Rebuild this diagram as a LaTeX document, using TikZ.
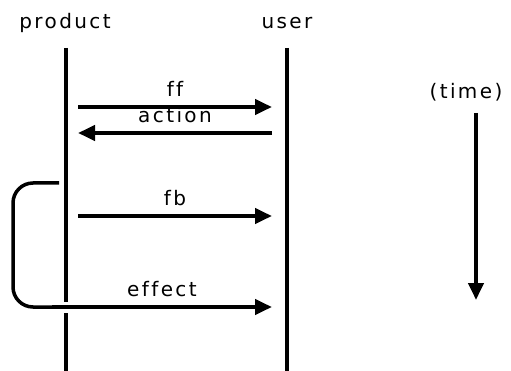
\documentclass[tikz,border=0pt]{standalone}
\usepackage{fontspec}
\setmainfont[LetterSpace=12, Ligatures=NoCommon]{DejaVu Sans}
\usetikzlibrary{positioning,arrows.meta}

\begin{document}
\begin{tikzpicture}[x=1pt, y=-1pt, font=\fontsize{20}{22}\selectfont,
   lane/.style={line width=4pt},
   msg/.style={line width=4pt, -{Triangle[length=17pt, width=15pt]}},
   lbl/.style={midway, above=8pt, inner sep=0pt},
   loopline/.style={line width=3.5pt, rounded corners=20pt}]
  \useasboundingbox (0,0) rectangle (511,371);
  % lifelines
  \node[anchor=base] (product) at (65,29) {product};
  \node[anchor=base] (user) at (287,29) {user};
  \coordinate (p top) at (66,48);
  \coordinate (p gap1) at (66,302);
  \coordinate (p gap2) at (66,313);
  \coordinate (p bot) at (66,371);
  \coordinate (u top) at (287,48);
  \coordinate (u bot) at (287,371);
  \draw[lane] (p top)--(p gap1);
  \draw[lane] (p gap2)--(p bot);
  \draw[lane] (u top)--(u bot);

  % messages
  \coordinate (ff from) at (78,107);
  \coordinate (ff to) at (272,107);
  \coordinate (act from) at (272,133);
  \coordinate (act to) at (78,133);
  \coordinate (fb from) at (78,216);
  \coordinate (fb to) at (272,216);
  \draw[msg] (ff from)--(ff to) node[lbl] {ff};
  \draw[msg] (act from)--(act to) node[lbl] {action};
  \draw[msg] (fb from)--(fb to) node[lbl] {fb};

  % feedback loop -> effect
  \coordinate (loop start) at (59,183);
  \coordinate (loop end) at (52,307);
  \coordinate (eff to) at (272,307);
  \draw[loopline] (loop start)--(13,183)--(13,307)--(loop end);
  \draw[msg] (loop end)--(eff to) node[lbl] {effect};

  % time axis
  \node[anchor=base] (time) at (466,99) {(time)};
  \coordinate (t from) at (476,113);
  \coordinate (t to) at (476,300);
  \draw[msg] (t from)--(t to);
\end{tikzpicture}
\end{document}
